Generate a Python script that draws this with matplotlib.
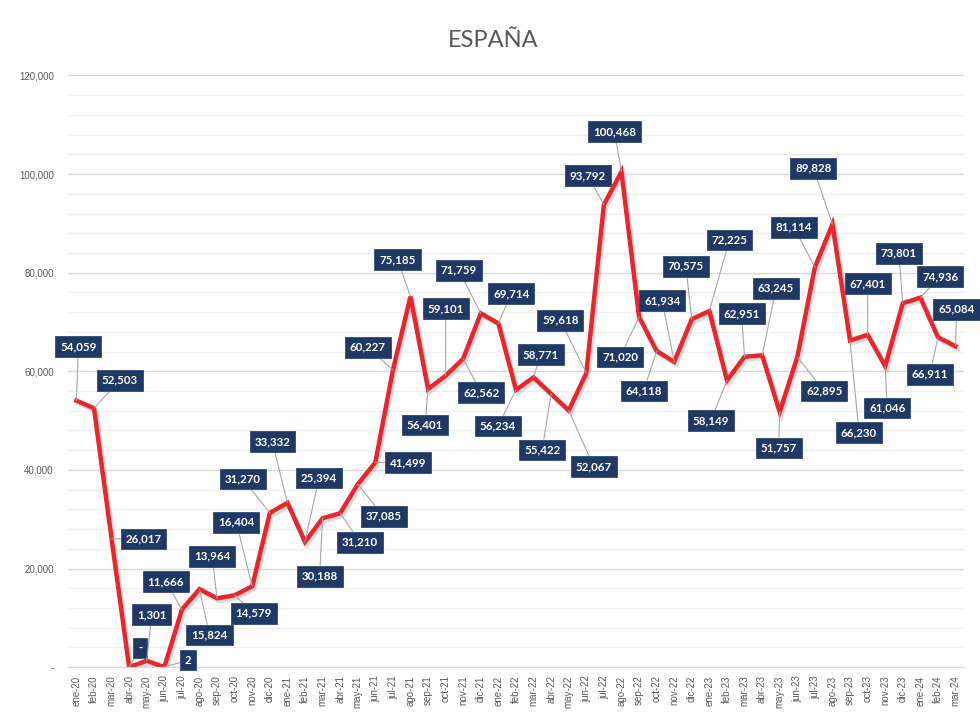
import matplotlib
matplotlib.use("Agg")
import matplotlib.pyplot as plt
import matplotlib.patheffects as pe
from matplotlib.ticker import MultipleLocator, FuncFormatter

# months ene-20 .. mar-24
meses = ["ene", "feb", "mar", "abr", "may", "jun",
         "jul", "ago", "sep", "oct", "nov", "dic"]
etiquetas = ["%s-%d" % (m, a) for a in range(20, 25) for m in meses][:51]

valores = [
    54059, 52503, 26017, 0, 1301, 2, 11666, 15824, 13964, 14579, 16404, 31270,
    33332, 25394, 30188, 31210, 37085, 41499, 60227, 75185, 56401, 59101, 62562, 71759,
    69714, 56234, 58771, 55422, 52067, 59618, 93792, 100468, 71020, 64118, 61934, 70575,
    72225, 58149, 62951, 63245, 51757, 62895, 81114, 89828, 66230, 67401, 61046, 73801,
    74936, 66911, 65084,
]

# label offsets from each point, in pixels (dx right, dy down)
offsets = [
    (2, -54), (26, -28), (32, 0), (11, -19), (5, -46), (24, -7),
    (-16, -28), (10, 46), (-5, -42), (19, 18), (-16, -64), (-27, -34),
    (-15, -61), (14, -64), (-3, 58), (20, 29), (26, 32), (33, 0),
    (-25, -23), (-13, -37), (-3, 36), (0, -67), (18, 34), (-22, -43),
    (13, -30), (-18, 36), (7, -23), (-9, 56), (25, 56), (-26, -53),
    (-16, -29), (-7, -40), (-19, 40), (-13, 40), (-12, -61), (-6, -53),
    (20, -71), (-16, 40), (-3, -43), (14, -67), (-1, 36), (27, 34),
    (-21, -40), (-19, -56), (9, 92), (0, -51), (2, 42), (-4, -50),
    (20, -21), (-8, 37), (1, -37),
]

fig = plt.figure(figsize=(9.8, 7.12), dpi=100)
ax = fig.add_axes([0.069, 0.063, 0.915, 0.831])

x = list(range(len(valores)))
ax.plot(x, valores, color="#E8262B", lw=3.2, solid_joinstyle="miter", zorder=3,
        path_effects=[pe.SimpleLineShadow(offset=(1.5, -2), shadow_color="#999999", alpha=0.35),
                      pe.Normal()])

ax.set_xlim(-0.5, len(valores) - 0.5)
ax.set_ylim(0, 120000)
ax.yaxis.set_major_locator(MultipleLocator(20000))
ax.yaxis.set_minor_locator(MultipleLocator(4000))
ax.yaxis.set_major_formatter(FuncFormatter(lambda v, p: "-" if v == 0 else "{:,.0f}".format(v)))
ax.grid(axis="y", which="major", color="#D9D9D9", lw=1.0)
ax.grid(axis="y", which="minor", color="#EFEFEF", lw=0.9)
ax.set_axisbelow(True)

ax.set_xticks(x)
ax.set_xticklabels(etiquetas, rotation=90, fontsize=7, color="#595959", family="Liberation Sans")
for lab in ax.get_yticklabels():
    lab.set_fontsize(7)
    lab.set_color("#595959")
    lab.set_family("Liberation Sans")
ax.tick_params(axis="x", length=0, pad=6)
ax.tick_params(axis="y", length=0, pad=10)
ax.tick_params(axis="y", which="minor", length=0)
for s in ["top", "right", "left"]:
    ax.spines[s].set_visible(False)
ax.spines["bottom"].set_color("#D9D9D9")

for i, v in enumerate(valores):
    dx, dy = offsets[i]
    txt = "-" if v == 0 else "{:,}".format(v)
    ax.annotate(txt, (i, v), xytext=(dx, -dy), textcoords="offset pixels",
                ha="center", va="center", fontsize=8.3, fontweight="bold", color="white",
                family="Lato",
                bbox=dict(boxstyle="square,pad=0.42", fc="#1F3864", ec="#2E4A7A", lw=0.6),
                arrowprops=dict(arrowstyle="-", color="#A6A6A6", lw=0.8,
                                shrinkA=0, shrinkB=0),
                zorder=5)

fig.text(0.503, 0.943, "ESPAÑA", ha="center", va="center", fontsize=17,
         color="#595959", family="Lato")

fig.savefig("out.png", dpi=100)
